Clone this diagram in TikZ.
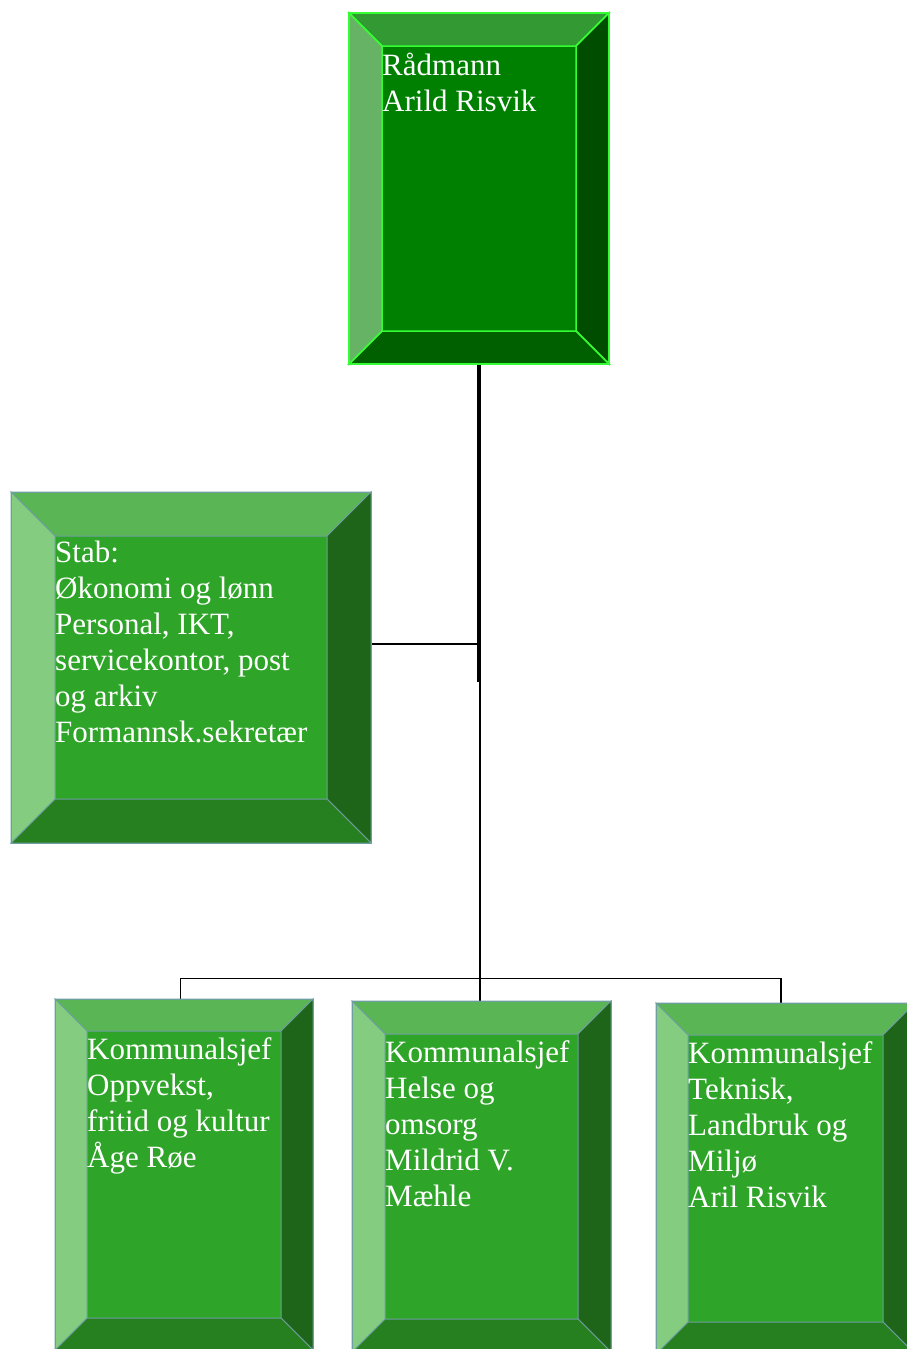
\documentclass[tikz,border=0pt]{standalone}
\usepackage{fontspec}
\setmainfont{Liberation Serif}
\usetikzlibrary{calc}
\definecolor{darktop}{RGB}{51,153,51}
\definecolor{darkleft}{RGB}{102,179,102}
\definecolor{darkright}{RGB}{0,77,0}
\definecolor{darkbottom}{RGB}{0,96,0}
\definecolor{darkmid}{RGB}{0,128,0}
\definecolor{darkedge}{RGB}{51,255,51}
\definecolor{lighttop}{RGB}{90,182,85}
\definecolor{lightleft}{RGB}{132,204,128}
\definecolor{lightright}{RGB}{30,101,25}
\definecolor{lightbottom}{RGB}{38,128,32}
\definecolor{lightmid}{RGB}{46,165,40}
\definecolor{lightedge}{RGB}{110,158,160}
\begin{document}
\begin{tikzpicture}[x=1pt,y=-1pt,
  outer/.style={minimum width=#1, minimum height=351pt, inner sep=0pt, outer sep=0pt},
  boxtext/.style={anchor=north west, inner sep=0pt, align=left, text=white, font=\fontsize{31}{36}\selectfont},
  conn/.style={black, line width=1.3pt},
  darkline/.style={draw=darkedge, line width=1.5pt},
  lightline/.style={draw=lightedge, line width=1pt}]
  \useasboundingbox (0,0) rectangle (907,1349);
  \clip (0,0) rectangle (907,1349);

  \node[outer=260pt] (radm) at (479,188.5) {};
  \node[outer=360pt] (stab) at (191,667.5) {};
  \node[outer=258pt] (oppv) at (184,1174.5) {};
  \node[outer=259pt] (helse) at (481.5,1176.5) {};
  \node[outer=259pt] (tekn) at (785.5,1178.5) {};

  \coordinate (bar) at (480,978.5);
  \coordinate (stabjoin) at (478,644);
  \coordinate (stabend) at (478,682);
  \draw[conn, line width=2.5pt] (radm.south -| bar) -- (bar); % trunk
  \draw[conn] (radm.south -| stabend) -- (stabend);
  \draw[conn] (stab.east |- stabjoin) -- (stabjoin); % to stab
  \draw[conn] ($(oppv.north)+(-3.5,0)$) |- (bar) -| ($(tekn.north)+(-4.5,0)$);
  \draw[conn] (bar) -- (helse.north -| bar);

  % bevelled boxes
  \foreach \n/\b/\s in {radm/33/dark, stab/44/light, oppv/32/light, helse/33/light, tekn/32/light}{
    \coordinate (\n-a) at ($(\n.north west)+(\b,\b)$);
    \coordinate (\n-b) at ($(\n.north east)+(-\b,\b)$);
    \coordinate (\n-c) at ($(\n.south east)+(-\b,-\b)$);
    \coordinate (\n-d) at ($(\n.south west)+(\b,-\b)$);
    \fill[\s mid] (\n-a) rectangle (\n-c);
    \filldraw[\s line, fill=\s top] (\n.north west) -- (\n.north east) -- (\n-b) -- (\n-a) -- cycle;
    \filldraw[\s line, fill=\s right] (\n.north east) -- (\n.south east) -- (\n-c) -- (\n-b) -- cycle;
    \filldraw[\s line, fill=\s bottom] (\n.south east) -- (\n.south west) -- (\n-d) -- (\n-c) -- cycle;
    \filldraw[\s line, fill=\s left] (\n.south west) -- (\n.north west) -- (\n-a) -- (\n-d) -- cycle;
    \draw[\s line] (\n.north west) rectangle (\n.south east);
  }

  \node[boxtext] (radmtext) at ($(radm-a)+(0,7)$) {Rådmann\\Arild Risvik};
  \node[boxtext] (stabtext) at ($(stab-a)+(0,5)$) {Stab:\\Økonomi og lønn\\Personal, IKT,\\servicekontor, post\\og arkiv\\Formannsk.sekretær};
  \node[boxtext] (oppvtext) at ($(oppv-a)+(0,6)$) {Kommunalsjef\\Oppvekst,\\fritid og kultur\\Åge Røe};
  \node[boxtext] (helsetext) at ($(helse-a)+(0,6)$) {Kommunalsjef\\Helse og\\omsorg\\Mildrid V.\\Mæhle};
  \node[boxtext] (tekntext) at ($(tekn-a)+(0,6)$) {Kommunalsjef\\Teknisk,\\Landbruk og\\Miljø\\Aril Risvik};
\end{tikzpicture}
\end{document}
